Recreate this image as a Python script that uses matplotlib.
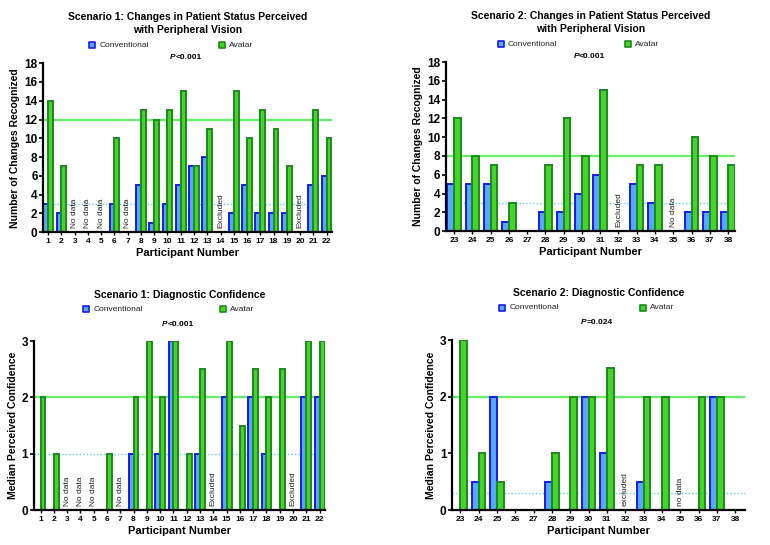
import matplotlib
matplotlib.use("Agg")
import matplotlib.pyplot as plt
import numpy as np

plt.rcParams['font.family'] = ['Liberation Sans', 'DejaVu Sans']

# ---------- data ----------
p1 = list(range(1, 23))
s1_change_conv = [3, 2, 0, 0, 0, 3, 0, 5, 1, 3, 5, 7, 8, 0, 2, 5, 2, 2, 2, 0, 5, 6]
s1_change_av = [14, 7, 0, 0, 0, 10, 0, 13, 12, 13, 15, 7, 11, 0, 15, 10, 13, 11, 7, 0, 13, 10]
s1_change_notes = {3: "No data", 4: "No data", 5: "No data", 7: "No data", 14: "Excluded", 20: "Excluded"}
s1_change_lines = (12, 3)

p2 = list(range(23, 39))
s2_change_conv = [5, 5, 5, 1, 0, 2, 2, 4, 6, 0, 5, 3, 0, 2, 2, 2]
s2_change_av = [12, 8, 7, 3, 0, 7, 12, 8, 15, 0, 7, 7, 0, 10, 8, 7]
s2_change_notes = {32: "Excluded", 35: "No data"}
s2_change_lines = (8, 3)

s1_conf_conv = [0, 0, 0, 0, 0, 0, 0, 1, 0, 1, 3, 0, 1, 0, 2, 0, 2, 1, 0, 0, 2, 2]
s1_conf_av = [2, 1, 0, 0, 0, 1, 0, 2, 3, 2, 3, 1, 2.5, 0, 3, 1.5, 2.5, 2, 2.5, 0, 3, 3]
s1_conf_notes = {3: "No data", 4: "No data", 5: "No data", 7: "No data", 14: "Excluded", 20: "Excluded"}
s1_conf_lines = (2, 1)

s2_conf_conv = [0, 0.5, 2, 0, 0, 0.5, 0, 2, 1, 0, 0.5, 0, 0, 0, 2, 0]
s2_conf_av = [3, 1, 0.5, 0, 0, 1, 2, 2, 2.5, 0, 2, 2, 0, 2, 2, 0]
s2_conf_notes = {32: "excluded", 35: "no data"}
s2_conf_lines = (2, 0.3)

titles = ["Scenario 1: Changes in Patient Status Perceived\nwith Peripheral Vision",
          "Scenario 2: Changes in Patient Status Perceived\nwith Peripheral Vision",
          "Scenario 1: Diagnostic Confidence",
          "Scenario 2: Diagnostic Confidence"]
pvals = ["<0.001", "<0.001", "<0.001", "=0.024"]
ylabels = ["Number of Changes Recognized", "Number of Changes Recognized",
           "Median Perceived Confidence", "Median Perceived Confidence"]

CONV_FILL, CONV_EDGE = "#55aaff", "#1a1aee"
AV_FILL, AV_EDGE = "#44d42a", "#1d8a1d"
GREEN_LINE, BLUE_DOT = "#66ee66", "#66ccee"

fig = plt.figure(figsize=(7.7, 5.45), dpi=100)

panels = [
    dict(rect=[0.056, 0.574, 0.375, 0.310], x=p1, c=s1_change_conv, a=s1_change_av, notes=s1_change_notes,
         lines=s1_change_lines, ylim=18, yticks=np.arange(0, 19, 2), xlim=(0.62, 22.4), note_y=0.4,
         title_y=1.235, leg_y=1.105, p_y=1.035, leg_x=(0.17, 0.62)),
    dict(rect=[0.579, 0.576, 0.376, 0.310], x=p2, c=s2_change_conv, a=s2_change_av, notes=s2_change_notes,
         lines=s2_change_lines, ylim=18, yticks=np.arange(0, 19, 2), xlim=(22.55, 38.4), note_y=0.4,
         title_y=1.235, leg_y=1.105, p_y=1.035, leg_x=(0.19, 0.63)),
    dict(rect=[0.044, 0.064, 0.378, 0.310], x=p1, c=s1_conf_conv, a=s1_conf_av, notes=s1_conf_notes,
         lines=s1_conf_lines, ylim=3, yticks=[0, 1, 2, 3], xlim=(0.5, 22.4), note_y=0.08,
         title_y=1.275, leg_y=1.19, p_y=1.10, leg_x=(0.18, 0.65)),
    dict(rect=[0.587, 0.064, 0.381, 0.312], x=p2, c=s2_conf_conv, a=s2_conf_av, notes=s2_conf_notes,
         lines=s2_conf_lines, ylim=3, yticks=[0, 1, 2, 3], xlim=(22.55, 38.55), note_y=0.08,
         title_y=1.275, leg_y=1.19, p_y=1.105, leg_x=(0.17, 0.65)),
]

w = 0.37
for i, pn in enumerate(panels):
    ax = fig.add_axes(pn['rect'])
    x = np.array(pn['x'], dtype=float)
    ax.axhline(pn['lines'][0], color=GREEN_LINE, lw=1.6, zorder=1)
    ax.axhline(pn['lines'][1], color=BLUE_DOT, lw=1.0, ls=(0, (1, 1.5)), zorder=1)
    ax.bar(x - w / 2, pn['c'], width=w, color=CONV_FILL, edgecolor=CONV_EDGE, lw=1.4, zorder=2)
    ax.bar(x + w / 2, pn['a'], width=w, color=AV_FILL, edgecolor=AV_EDGE, lw=1.4, zorder=2)
    for k, txt in pn['notes'].items():
        ax.text(k, pn['note_y'], txt, rotation=90, ha='center', va='bottom', fontsize=6, color='#222222')
    ax.set_xlim(*pn['xlim'])
    ax.set_ylim(0, pn['ylim'])
    ax.set_xticks(x)
    ax.set_xticklabels([str(v) for v in pn['x']], fontsize=6, fontweight='bold')
    ax.set_yticks(pn['yticks'])
    ax.set_yticklabels([str(v) for v in pn['yticks']], fontsize=8.5, fontweight='bold')
    for s in ['top', 'right']:
        ax.spines[s].set_visible(False)
    ax.spines['left'].set_linewidth(1.6)
    ax.spines['bottom'].set_linewidth(1.6)
    ax.tick_params(axis='y', length=3, width=1.2, pad=1)
    ax.tick_params(axis='x', length=2.5, width=1.0, pad=2)
    ax.set_xlabel("Participant Number", fontsize=8, fontweight='bold', labelpad=2)
    ax.set_ylabel(ylabels[i], fontsize=7.5, fontweight='bold', labelpad=3)
    ax.text(0.5, pn['title_y'], titles[i], transform=ax.transAxes, ha='center', va='center',
            fontsize=7.5, fontweight='bold', linespacing=1.3)
    ax.text(0.46, pn['p_y'], "P", transform=ax.transAxes, ha='right', va='center',
            fontsize=6, fontweight='bold', style='italic')
    ax.text(0.46, pn['p_y'], pvals[i], transform=ax.transAxes, ha='left', va='center',
            fontsize=6, fontweight='bold')
    # legend
    for lx, lab, fc, ec in [(pn['leg_x'][0], "Conventional", CONV_FILL, CONV_EDGE),
                            (pn['leg_x'][1], "Avatar", AV_FILL, AV_EDGE)]:
        ax.scatter([lx], [pn['leg_y']], marker='s', s=22, c=fc, edgecolors=ec, linewidths=1.2,
                   transform=ax.transAxes, clip_on=False, zorder=5)
        ax.text(lx + 0.025, pn['leg_y'], lab, transform=ax.transAxes, ha='left', va='center',
                fontsize=6, color='#222222')

fig.savefig("out.png", dpi=100)
